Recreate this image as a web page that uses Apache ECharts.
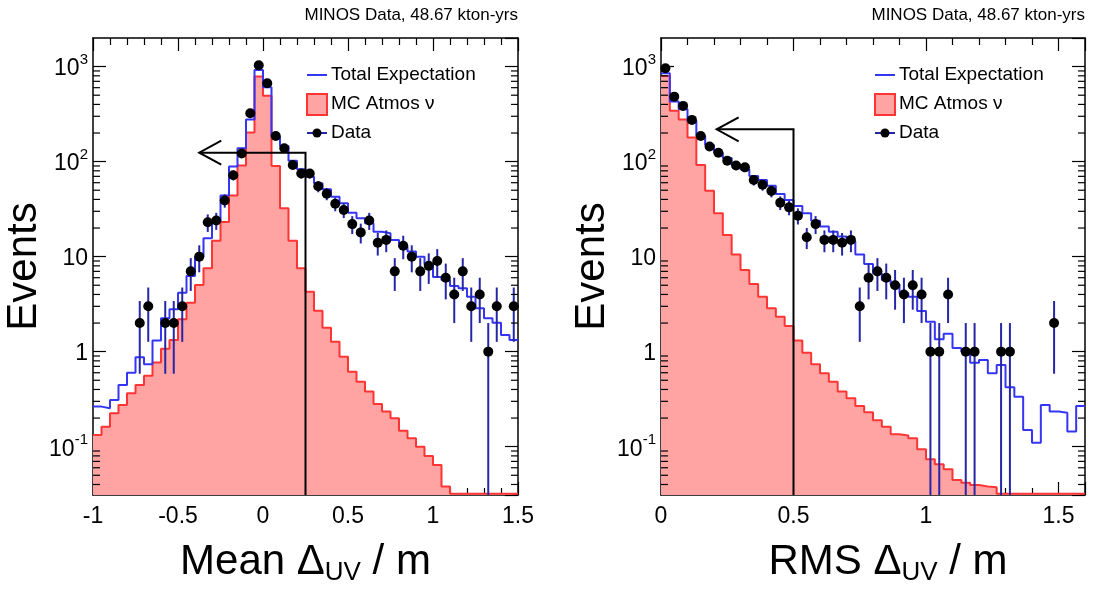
<!DOCTYPE html>
<html>
<head>
<meta charset="utf-8">
<script src="https://cdn.jsdelivr.net/npm/echarts@6/dist/echarts.min.js"></script>
<style>
  html, body { margin: 0; padding: 0; background: #ffffff; }
  #chart { width: 1094px; height: 594px; }
</style>
</head>
<body>
<div id="chart"></div>
<script>
// ---- Mean ΔUV histograms: 50 bins of 0.05 m from -1 to 1.5 ----
const meanBinLow = -1;
const meanBinWidth = 0.05;
const meanData = [0, 0, 0, 0, 0, 2, 3, 0, 2, 2,
                  3, 7, 10, 23, 24, 39, 72, 122, 323, 1035,
                  669, 186, 138, 92, 75, 75, 55, 46, 36, 31,
                  22, 18, 24, 14, 15, 7, 13, 10, 7, 8,
                  9, 6, 4, 7, 3, 4, 1, 3, 0, 3];
const meanMC = [0.133, 0.162, 0.225, 0.275, 0.365, 0.446, 0.559, 0.77, 1.07, 1.33,
                2.19, 3.28, 5.04, 7.55, 14.7, 23.2, 43.9, 90.8, 202, 785,
                492, 90, 32.3, 14.7, 7.55, 4.28, 2.70, 1.79, 1.27, 0.886,
                0.616, 0.483, 0.38, 0.281, 0.234, 0.199, 0.147, 0.123, 0.1, 0.08,
                0.064, 0.038, 0.032, 0.032, 0.032, 0.032, 0.032, 0.032, 0.032, 0.032];
const meanTotal = [0.264, 0.254, 0.31, 0.446, 0.60, 0.873, 0.737, 1.31, 2.25, 2.80,
                   4.18, 6.27, 10.0, 15.6, 23.4, 43.9, 88.6, 138, 278, 923,
                   607, 183, 146, 102, 83, 69.5, 59.3, 51.2, 42.8, 36.5,
                   29, 25.4, 22.5, 18.3, 17.6, 15, 12.7, 11.3, 10, 8.3,
                   6.1, 5.69, 4.92, 4.65, 3.79, 2.86, 2.25, 2.02, 1.5, 1.33];

// ---- RMS ΔUV histograms: 48 bins of 1/30 m from 0 to 1.6 ----
const rmsBinLow = 0;
const rmsBinWidth = 1 / 30;
const rmsData = [962, 483, 386, 275, 186, 144, 124, 102, 91, 87,
                 64, 57, 49, 37, 33, 27, 16, 22, 15, 15,
                 14, 15, 3, 6, 7, 6, 5, 4, 5, 4,
                 1, 1, 4, 0, 1, 1, 0, 0, 1, 1,
                 0, 0, 0, 0, 2, 0, 0, 0];
const rmsMC = [798, 344, 278, 179, 92.3, 49.5, 28.6, 16.9, 10.5, 7.24,
               5.16, 3.79, 2.86, 2.33, 1.86, 1.31, 0.976, 0.737, 0.592, 0.483,
               0.38, 0.323, 0.268, 0.23, 0.19, 0.162, 0.135, 0.131, 0.123, 0.094,
               0.0739, 0.0654, 0.058, 0.0445, 0.0418, 0.0395, 0.038, 0.0375, 0.032, 0.032,
               0.032, 0.032, 0.032, 0.032, 0.032, 0.032, 0.032, 0.032];
const rmsTotal = [853, 428, 356, 270, 186, 150, 124, 109, 92.3, 83,
                  70.7, 64.2, 55.6, 45.7, 39.5, 34.2, 28.6, 23.9, 20.7, 18.3,
                  16.3, 14.4, 10.5, 8.38, 6.69, 5.69, 5.08, 4.12, 3.79, 2.68,
                  2.07, 1.35, 1.54, 1.09, 1.0, 0.766, 0.818, 0.592, 0.724, 0.422,
                  0.336, 0.15, 0.11, 0.275, 0.234, 0.228, 0.144, 0.268];

// ---- selection cuts (vertical cut value, arrow height, arrow tip) ----
const cutValue = [0.25, 0.5];
const cutArrowLevel = [124, 219];
const cutArrowTip = [-0.375, 0.21];

// ---- axis ranges and titles ----
const xRanges = [[-1, 1.5], [0, 1.6]];
const yRange = [0.031, 2000];
const xTitles = [['Mean Δ', 'UV', ' / m'], ['RMS Δ', 'UV', ' / m']];
const yTitle = 'Events';
const exposureText = 'MINOS Data, 48.67 kton-yrs';
const legendNames = ['Total Expectation', 'MC Atmos ν', 'Data'];

const FONT = '"Liberation Sans", Arial, Helvetica, sans-serif';
const BLUE = '#3535f5';
const RED = '#ff3535';
const FILL = '#ffa3a3';
const ERR = '#2626a6';

const gridBoxes = [
  { left: 93, top: 38, width: 425, height: 457 },
  { left: 661, top: 38, width: 424, height: 457 }
];

function stepPoints(low, width, values) {
  const pts = [];
  values.forEach((v, i) => {
    pts.push([low + i * width, v], [low + (i + 1) * width, v]);
  });
  return pts;
}
function dataPoints(low, width, values) {
  const pts = [];
  values.forEach((n, i) => { if (n > 0) pts.push([low + (i + 0.5) * width, n]); });
  return pts;
}
const minorDecades = [];
for (let k = -2; k <= 3; k++) {
  for (let m = 2; m <= 9; m++) {
    const v = m * Math.pow(10, k);
    if (v > yRange[0] && v < yRange[1]) minorDecades.push(v);
  }
}

function xAxisPair(p) {
  const common = {
    type: 'value', gridIndex: p, min: xRanges[p][0], max: xRanges[p][1], interval: 0.5,
    axisLine: { show: true, onZero: false, lineStyle: { color: '#000', width: 1.5 } },
    axisTick: { show: true, inside: true, length: 13, lineStyle: { color: '#000', width: 1.2 } },
    minorTick: { show: true, splitNumber: 5, length: 7, lineStyle: { color: '#000', width: 1.2 } },
    splitLine: { show: false }, minorSplitLine: { show: false }
  };
  return [
    Object.assign({}, common, {
      position: 'bottom',
      axisLabel: { show: true, margin: 10, fontSize: 23, color: '#000', fontFamily: FONT,
                   showMaxLabel: p === 0, formatter: v => String(v) },
      name: '{t|' + xTitles[p][0] + '}{u|' + xTitles[p][1] + '}{t|' + xTitles[p][2] + '}',
      nameLocation: 'middle', nameGap: 46,
      nameTextStyle: {
        padding: p === 1 ? [0, 0, 0, 30] : 0,
        rich: {
          t: { fontSize: 42, lineHeight: 44, verticalAlign: 'top', fontFamily: FONT, color: '#000' },
          u: { fontSize: 26, lineHeight: 26, padding: [27, 0, 0, 0], verticalAlign: 'bottom', fontFamily: FONT, color: '#000' }
        }
      }
    }),
    Object.assign({}, common, { position: 'top', axisLabel: { show: false } })
  ];
}
function yAxisPair(p) {
  const common = {
    type: 'log', gridIndex: p, min: yRange[0], max: yRange[1], logBase: 10,
    axisLine: { show: true, onZero: false, lineStyle: { color: '#000', width: 1.5 } },
    axisTick: { show: true, inside: true, length: 13, lineStyle: { color: '#000', width: 1.2 } },
    minorTick: { show: false }, splitLine: { show: false }, minorSplitLine: { show: false }
  };
  return [
    Object.assign({}, common, {
      position: 'left',
      axisLabel: {
        show: true, margin: 5, showMinLabel: false, showMaxLabel: false,
        formatter: v => {
          const e = Math.round(Math.log10(v));
          if (e === 0) return '{b|1}';
          if (e === 1) return '{b|10}';
          return '{b|10}{s|' + e + '}';
        },
        rich: {
          b: { fontSize: 23, lineHeight: 28, verticalAlign: 'bottom', fontFamily: FONT, color: '#000' },
          s: { fontSize: 15, lineHeight: 15, verticalAlign: 'top', fontFamily: FONT, color: '#000' }
        }
      },
      name: yTitle, nameLocation: 'middle', nameRotate: 90, nameGap: 44,
      nameTextStyle: { fontSize: 42, fontFamily: FONT, color: '#000' }
    }),
    Object.assign({}, common, { position: 'right', axisLabel: { show: false } })
  ];
}

function panelSeries(p, low, width, data, mc, total) {
  const xi = p * 2, yi = p * 2;
  return [
    {
      name: legendNames[1], type: 'line', xAxisIndex: xi, yAxisIndex: yi,
      data: stepPoints(low, width, mc), symbol: 'none', z: 2,
      lineStyle: { color: RED, width: 2 },
      areaStyle: { color: FILL, opacity: 1, origin: 'start' }
    },
    {
      name: legendNames[0], type: 'line', xAxisIndex: xi, yAxisIndex: yi,
      data: stepPoints(low, width, total), symbol: 'none', z: 3,
      lineStyle: { color: BLUE, width: 2 }
    },
    {
      name: 'cut', type: 'custom', xAxisIndex: xi, yAxisIndex: yi, z: 4,
      data: [[cutValue[p], cutArrowLevel[p]]],
      renderItem: (params, api) => {
        const base = api.coord([cutValue[p], yRange[0]]);
        const corner = api.coord([api.value(0), api.value(1)]);
        const tip = api.coord([cutArrowTip[p], api.value(1)]);
        return {
          type: 'group', children: [
            { type: 'polyline', shape: { points: [base, corner, tip] },
              style: { stroke: '#000', lineWidth: 2, fill: null } },
            { type: 'polyline', shape: { points: [[tip[0] + 22, tip[1] - 12], tip, [tip[0] + 22, tip[1] + 12]] },
              style: { stroke: '#000', lineWidth: 2, fill: null } }
          ]
        };
      }
    },
    {
      name: 'errors', type: 'custom', xAxisIndex: xi, yAxisIndex: yi, z: 5,
      data: dataPoints(low, width, data),
      renderItem: (params, api) => {
        const x = api.value(0), n = api.value(1), e = Math.sqrt(n);
        const top = api.coord([x, n + e]);
        const lowVal = n - e > yRange[0] ? n - e : yRange[0];
        const bot = api.coord([x, lowVal]);
        return { type: 'line', shape: { x1: top[0], y1: top[1], x2: bot[0], y2: bot[1] },
                 style: { stroke: ERR, lineWidth: 2 } };
      }
    },
    {
      name: legendNames[2], type: 'scatter', xAxisIndex: xi, yAxisIndex: yi, z: 6,
      data: dataPoints(low, width, data), symbol: 'circle', symbolSize: 10,
      itemStyle: { color: '#000', opacity: 1 }
    },
    {
      name: 'minor ticks', type: 'custom', xAxisIndex: xi, yAxisIndex: yi, z: 7,
      data: minorDecades.map(v => [xRanges[p][0], v]),
      renderItem: (params, api) => {
        const v = api.value(1);
        const L = api.coord([xRanges[p][0], v]);
        const R = api.coord([xRanges[p][1], v]);
        return { type: 'group', children: [
          { type: 'line', shape: { x1: L[0], y1: L[1], x2: L[0] + 7, y2: L[1] }, style: { stroke: '#000', lineWidth: 1.2 } },
          { type: 'line', shape: { x1: R[0] - 7, y1: R[1], x2: R[0], y2: R[1] }, style: { stroke: '#000', lineWidth: 1.2 } }
        ] };
      }
    }
  ];
}

function panelDecor(p) {
  const g = gridBoxes[p];
  const right = g.left + g.width;
  const sx = g.left + 214, tx = g.left + 238;
  const rows = [75, 104, 133];
  const textStyle = { fill: '#000', fontSize: 19, fontFamily: FONT, verticalAlign: 'middle', align: 'left' };
  return [
    { type: 'text', x: right, y: 15, style: { text: exposureText, fill: '#000', fontSize: 17,
      fontFamily: FONT, align: 'right', verticalAlign: 'middle' } },
    { type: 'line', shape: { x1: sx, y1: rows[0], x2: sx + 20, y2: rows[0] }, style: { stroke: BLUE, lineWidth: 2 } },
    { type: 'rect', shape: { x: sx, y: rows[1] - 10, width: 20, height: 21 }, style: { fill: FILL, stroke: RED, lineWidth: 2 } },
    { type: 'line', shape: { x1: sx, y1: rows[2], x2: sx + 20, y2: rows[2] }, style: { stroke: ERR, lineWidth: 2 } },
    { type: 'circle', shape: { cx: sx + 10, cy: rows[2], r: 4.5 }, style: { fill: '#000' } },
    { type: 'text', x: tx, y: rows[0], style: Object.assign({ text: legendNames[0] }, textStyle) },
    { type: 'text', x: tx, y: rows[1], style: Object.assign({ text: legendNames[1] }, textStyle) },
    { type: 'text', x: tx, y: rows[2], style: Object.assign({ text: legendNames[2] }, textStyle) }
  ];
}

const chart = echarts.init(document.getElementById('chart'), null, { renderer: 'canvas' });
chart.setOption({
  animation: false,
  backgroundColor: '#ffffff',
  textStyle: { fontFamily: FONT },
  grid: gridBoxes.map(g => Object.assign({ containLabel: false, show: false }, g)),
  xAxis: [].concat(xAxisPair(0), xAxisPair(1)),
  yAxis: [].concat(yAxisPair(0), yAxisPair(1)),
  series: [].concat(
    panelSeries(0, meanBinLow, meanBinWidth, meanData, meanMC, meanTotal),
    panelSeries(1, rmsBinLow, rmsBinWidth, rmsData, rmsMC, rmsTotal)
  ),
  graphic: [].concat(panelDecor(0), panelDecor(1))
});
</script>
</body>
</html>
